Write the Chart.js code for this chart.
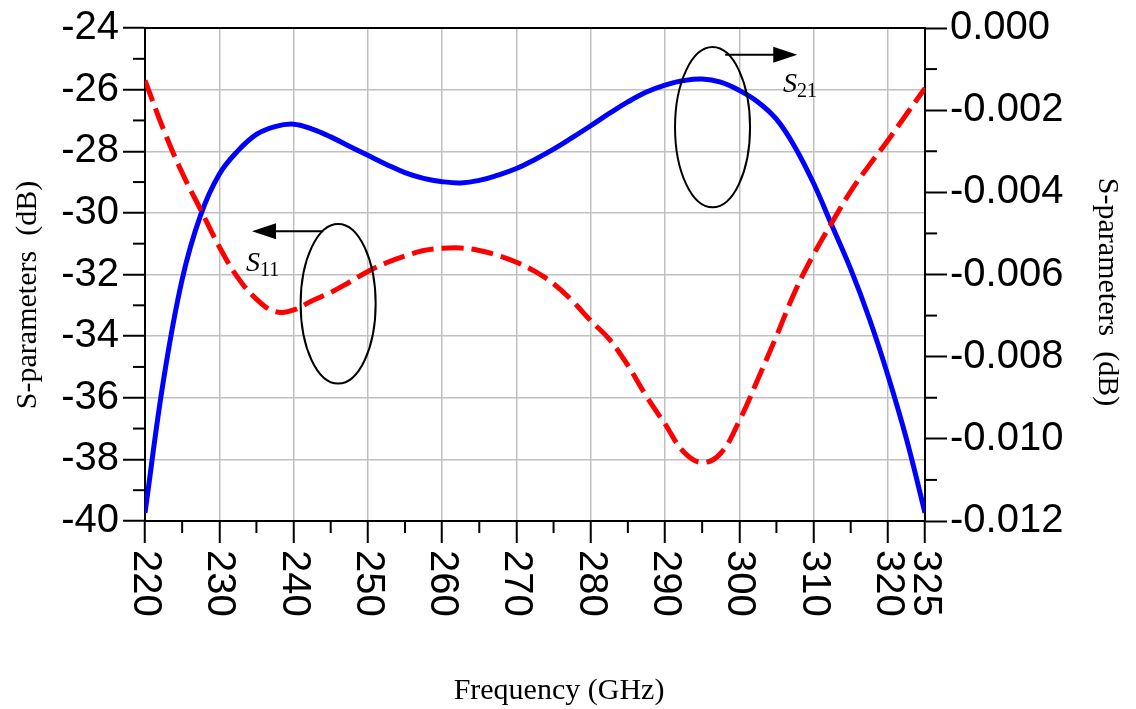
<!DOCTYPE html>
<html>
<head>
<meta charset="utf-8">
<script src="https://cdn.jsdelivr.net/npm/chart.js@4.4.1/dist/chart.umd.min.js"></script>
<style>
  body { margin: 0; background: #fff; }
  canvas { display: block; }
</style>
</head>
<body>
<canvas id="sparChart" width="1136" height="709"></canvas>
<script>
// frequency points (GHz)
const freq = [220, 222.5, 225, 227.5, 230, 232.5, 235, 237.5, 240, 242.5, 245, 247.5, 250, 252.5,
    255, 257.5, 260, 262.5, 265, 267.5, 270, 272.5, 275, 277.5, 280, 282.5, 285, 287.5,
    290, 292.5, 295, 297.5, 300, 302.5, 305, 307.5, 310, 312.5, 315, 317.5, 320, 322.5, 325];

// S11 in dB (left axis)
const s11 = [-25.7, -27.3, -28.7, -29.9, -31.1, -32.1, -32.8, -33.2, -33.15, -32.85, -32.58, -32.25, -31.9, -31.62,
    -31.4, -31.22, -31.15, -31.14, -31.22, -31.38, -31.6, -31.9, -32.3, -32.85, -33.5, -34.1, -34.95, -35.95,
    -36.85, -37.75, -38.1, -37.8, -36.75, -35.4, -34.0, -32.55, -31.35, -30.3, -29.3, -28.45, -27.65, -26.8, -25.95];

// S21 in dB (right axis)
const s21 = [-0.0118, -0.00856, -0.00612, -0.00455, -0.00356, -0.00299, -0.00259, -0.0024, -0.00234, -0.00246, -0.00265, -0.00288, -0.0031, -0.00332,
    -0.00352, -0.00366, -0.00374, -0.00377, -0.00371, -0.00358, -0.00342, -0.0032, -0.00295, -0.00267, -0.00238, -0.00208, -0.0018, -0.00156,
    -0.00139, -0.00128, -0.00124, -0.00132, -0.00152, -0.0018, -0.00222, -0.0029, -0.00378, -0.00482, -0.00587, -0.00707, -0.00845, -0.01, -0.0118];

// tick labels
const xTicks = [220, 230, 240, 250, 260, 270, 280, 290, 300, 310, 320, 325];
const xMinor = [225, 235, 245, 255, 265, 275, 285, 295, 305, 315];
const yTicks = [-40, -38, -36, -34, -32, -30, -28, -26, -24];
const yMinor = [-39, -37, -35, -33, -31, -29, -27, -25];
const y1Ticks = [-0.012, -0.010, -0.008, -0.006, -0.004, -0.002, 0];
const y1Minor = [-0.011, -0.009, -0.007, -0.005, -0.003, -0.001];

const SANS = '"Liberation Sans", Arial, sans-serif';
const SERIF = '"Liberation Serif", "Times New Roman", serif';

// annotation marks, in data units (GHz, dB of left axis)
const notes = [
    { label: '11', cx: 246.0, cy: -32.95, rx: 5.05, ry: 2.59, ax0: 244.0, ax1: 234.4, ay: -30.6, tx: 233.6, ty: -31.98 },
    { label: '21', cx: 296.4, cy: -27.22, rx: 5.05, ry: 2.6, ax0: 298.1, ax1: 307.8, ay: -24.87, tx: 305.9, ty: -26.17 }
];

const decoPlugin = {
    id: 'deco',
    afterDraw(chart) {
        const ctx = chart.ctx;
        const a = chart.chartArea;
        const x = chart.scales.x, y = chart.scales.y, y1 = chart.scales.y1;
        const line = (x0, y0, x1, yy1) => { ctx.beginPath(); ctx.moveTo(x0, y0); ctx.lineTo(x1, yy1); ctx.stroke(); };

        ctx.save();
        ctx.strokeStyle = '#000';
        ctx.fillStyle = '#000';
        ctx.lineWidth = 2;

        // top frame line
        line(a.left, a.top, a.right, a.top);

        // minor ticks
        xMinor.forEach(v => { const p = x.getPixelForValue(v); line(p, a.bottom, p, a.bottom + 12); });
        yMinor.forEach(v => { const p = y.getPixelForValue(v); line(a.left - 12, p, a.left, p); });
        y1Minor.forEach(v => { const p = y1.getPixelForValue(v); line(a.right, p, a.right + 12, p); });

        // x tick labels, turned clockwise
        ctx.font = '40px ' + SANS;
        ctx.textAlign = 'left';
        ctx.textBaseline = 'middle';
        xTicks.forEach(v => {
            ctx.save();
            ctx.translate(x.getPixelForValue(v), a.bottom + 29);
            ctx.rotate(Math.PI / 2);
            ctx.fillText(String(v), 0, 0);
            ctx.restore();
        });

        // axis titles
        ctx.font = '30px ' + SERIF;
        ctx.textAlign = 'center';
        ctx.fillText('Frequency (GHz)', 559, 691);
        ctx.save();
        ctx.translate(28, 295);
        ctx.rotate(-Math.PI / 2);
        ctx.fillText('S-parameters  (dB)', 0, 0);
        ctx.restore();
        ctx.save();
        ctx.translate(1107, 292);
        ctx.rotate(Math.PI / 2);
        ctx.fillText('S-parameters  (dB)', 0, 0);
        ctx.restore();

        // ellipses, arrows and labels
        notes.forEach(n => {
            const cx = x.getPixelForValue(n.cx), cy = y.getPixelForValue(n.cy);
            const rx = Math.abs(x.getPixelForValue(n.cx + n.rx) - cx);
            const ry = Math.abs(y.getPixelForValue(n.cy + n.ry) - cy);
            ctx.beginPath();
            ctx.ellipse(cx, cy, rx, ry, 0, 0, Math.PI * 2);
            ctx.stroke();

            const p0 = x.getPixelForValue(n.ax0), p1 = x.getPixelForValue(n.ax1);
            const ay = y.getPixelForValue(n.ay);
            const dir = Math.sign(p1 - p0);
            line(p0, ay, p1 - dir * 20, ay);
            ctx.beginPath();
            ctx.moveTo(p1, ay);
            ctx.lineTo(p1 - dir * 24, ay - 8);
            ctx.lineTo(p1 - dir * 24, ay + 8);
            ctx.closePath();
            ctx.fill();

            const tx = x.getPixelForValue(n.tx), ty = y.getPixelForValue(n.ty);
            ctx.textAlign = 'left';
            ctx.textBaseline = 'alphabetic';
            ctx.font = 'italic 28px ' + SERIF;
            ctx.fillText('S', tx, ty - 3);
            const w = ctx.measureText('S').width;
            ctx.font = '20px ' + SERIF;
            ctx.fillText(n.label, tx + w, ty + 2);
        });

        ctx.restore();
    }
};

const ctx = document.getElementById('sparChart').getContext('2d');
new Chart(ctx, {
    type: 'line',
    data: {
        datasets: [
            {
                label: 'S11',
                data: freq.map((f, i) => ({ x: f, y: s11[i] })),
                yAxisID: 'y',
                borderColor: '#ff0000',
                borderWidth: 5,
                borderDash: [22, 8],
                pointRadius: 0,
                tension: 0.4,
                fill: false
            },
            {
                label: 'S21',
                data: freq.map((f, i) => ({ x: f, y: s21[i] })),
                yAxisID: 'y1',
                borderColor: '#0000ff',
                borderWidth: 5,
                pointRadius: 0,
                tension: 0.4,
                fill: false
            }
        ]
    },
    options: {
        responsive: false,
        animation: false,
        layout: { padding: { top: 26, left: 0, right: 0, bottom: 0 } },
        plugins: {
            legend: { display: false },
            tooltip: { enabled: false }
        },
        scales: {
            x: {
                type: 'linear',
                min: 220,
                max: 325,
                afterBuildTicks: s => { s.ticks = xTicks.map(v => ({ value: v })); },
                afterFit: s => { s.height = 188; },
                ticks: { display: false },
                grid: { color: '#c0c0c0', lineWidth: 1.5, tickColor: '#000', tickLength: 22, tickWidth: 2 },
                border: { color: '#000', width: 2 }
            },
            y: {
                position: 'left',
                min: -40,
                max: -24,
                afterBuildTicks: s => { s.ticks = yTicks.map(v => ({ value: v })); },
                afterFit: s => { s.width = 145; },
                ticks: {
                    color: '#000',
                    padding: 4,
                    font: { size: 40, family: SANS },
                    callback: v => v.toFixed(0)
                },
                grid: { color: '#c0c0c0', lineWidth: 1.5, tickColor: '#000', tickLength: 22, tickWidth: 2 },
                border: { color: '#000', width: 2 }
            },
            y1: {
                position: 'right',
                min: -0.012,
                max: 0,
                afterBuildTicks: s => { s.ticks = y1Ticks.map(v => ({ value: v })); },
                afterFit: s => { s.width = 211; },
                ticks: {
                    color: '#000',
                    padding: 3,
                    font: { size: 40, family: SANS },
                    callback: v => Math.abs(v) < 1e-9 ? '0.000' : v.toFixed(3)
                },
                grid: { drawOnChartArea: false, tickColor: '#000', tickLength: 22, tickWidth: 2 },
                border: { color: '#000', width: 2 }
            }
        }
    },
    plugins: [decoPlugin]
});
</script>
</body>
</html>
